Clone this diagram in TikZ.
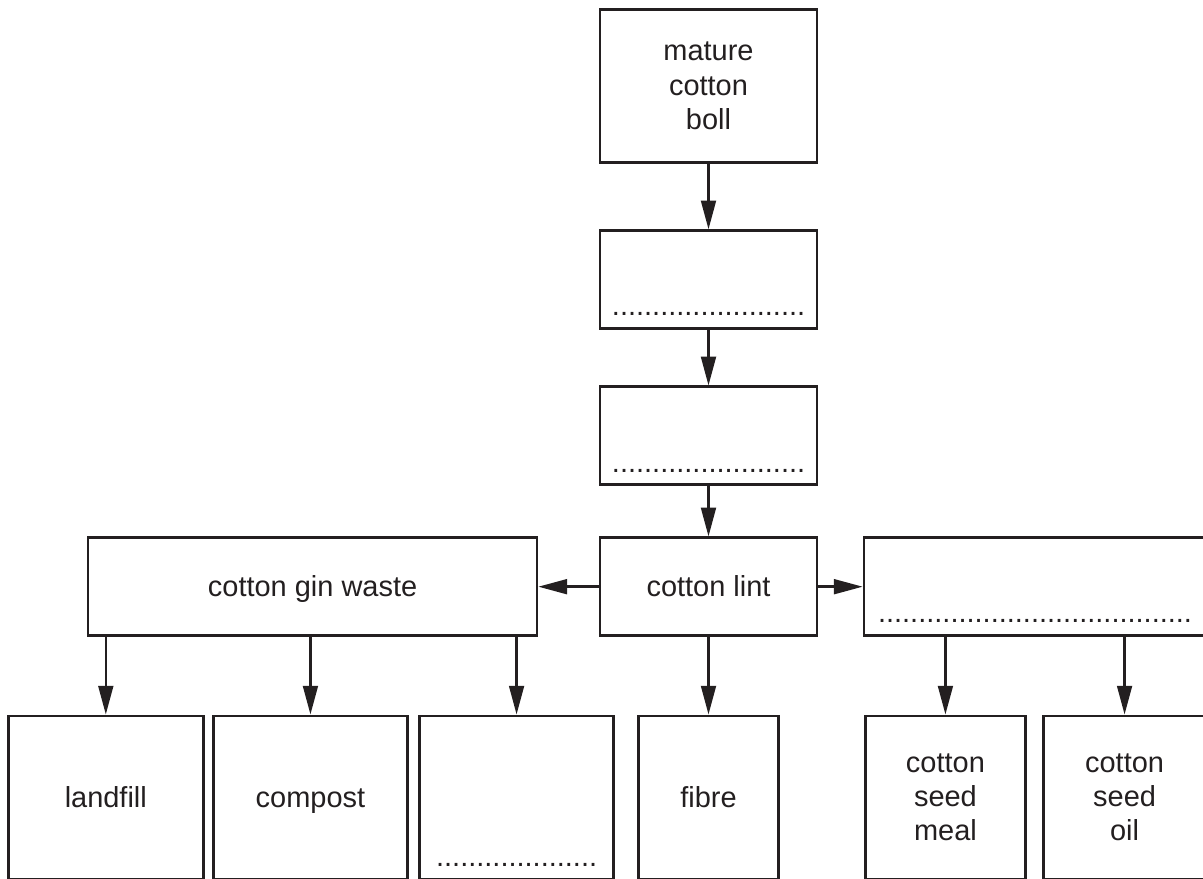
\documentclass[tikz,border=0pt]{standalone}
\usepackage{fontspec}
\setmainfont{Liberation Sans}
\usetikzlibrary{positioning}
\usetikzlibrary{arrows.meta}

\definecolor{ink}{HTML}{231F20}

\begin{document}
\begin{tikzpicture}[
    box/.style={rectangle, draw=ink, text=ink, line width=1.8pt, align=center, inner sep=0pt, minimum height=2.45cm, font=\fontsize{20.6pt}{24.5pt}\selectfont},
    tallbox/.style={box, minimum height=4.075cm},
    oneline/.style={text height=14.5pt, text depth=0pt},
    blank/.style={label={[anchor=base, yshift=0.35cm, inner sep=0pt, text=ink, font=\fontsize{20.6pt}{24.5pt}\selectfont]south:#1}},
    flow/.style={draw=ink, line width=1.8pt, -{Triangle[length=7.2mm, width=3.7mm]}}
]
    \useasboundingbox (0,0) rectangle (30.075,-21.975);

    % main column
    \node [box, minimum width=5.425cm, minimum height=3.825cm] (boll) at (17.7125,-2.15) {mature\\cotton\\boll};
    \node [box, minimum width=5.425cm, below=1.64cm of boll, blank={........................}] (picked) {};
    \node [box, minimum width=5.425cm, below=1.39cm of picked, blank={........................}] (ginned) {};
    \node [box, oneline, minimum width=5.425cm, below=1.26cm of ginned] (lint) {cotton lint};
    \node [box, oneline, minimum width=11.225cm, left=1.51cm of lint] (waste) {cotton gin waste};
    \node [box, minimum width=8.55cm, right=1.11cm of lint, blank={.......................................}] (seed) {};

    % bottom row
    \node [tallbox, oneline, minimum width=3.5cm, below=1.94cm of lint] (fibre) {fibre};
    \node [tallbox, minimum width=4.85cm, left=0.56cm of fibre, blank={....................}] (other) {};
    \node [tallbox, oneline, minimum width=4.85cm, left=0.24cm of other] (compost) {compost};
    \node [tallbox, oneline, minimum width=4.875cm, left=0.19cm of compost] (landfill) {landfill};
    \node [tallbox, minimum width=4cm, right=2.11cm of fibre] (meal) {cotton\\seed\\meal};
    \node [tallbox, minimum width=4.05cm, right=0.39cm of meal] (oil) {cotton\\seed\\oil};

    \draw [flow] (boll) -- (picked);
    \draw [flow] (picked) -- (ginned);
    \draw [flow] (ginned) -- (lint);
    \draw [flow] (lint) -- (waste);
    \draw [flow] (lint) -- (seed);
    \draw [flow] (lint) -- (fibre);
    \draw [flow] (waste.south -| landfill.north) -- (landfill.north);
    \draw [flow] (waste.south -| compost.north) -- (compost.north);
    \draw [flow] (waste.south -| other.north) -- (other.north);
    \draw [flow] (seed.south -| meal.north) -- (meal.north);
    \draw [flow] (seed.south -| oil.north) -- (oil.north);
\end{tikzpicture}
\end{document}
